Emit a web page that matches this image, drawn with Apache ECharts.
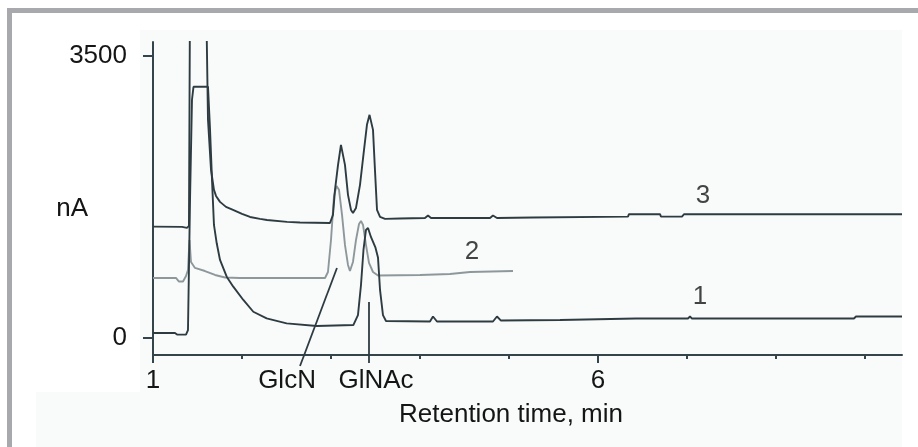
<!DOCTYPE html>
<html>
<head>
<meta charset="utf-8">
<script src="https://cdn.jsdelivr.net/npm/echarts@6/dist/echarts.min.js"></script>
<style>
  html, body { margin: 0; padding: 0; background: #fff; }
  #chart { width: 918px; height: 447px; }
</style>
</head>
<body>
<div id="chart"></div>
<script>
// retention time (min), signal (nA)
const curve1 = [[1.000,62],[1.247,62],[1.270,43],[1.371,43],[1.393,99],[1.416,1713],[1.438,2954],[1.455,3115],[1.618,3115],[1.640,2606],[1.663,1961],[1.685,1402],[1.716,1175],[1.753,968],[1.828,761],[1.902,637],[2.015,472],[2.127,326],[2.277,244],[2.502,182],[2.839,149],[3.251,161],[3.270,174],[3.303,285],[3.337,658],[3.365,1092],[3.393,1340],[3.416,1365],[3.450,1250],[3.500,1120],[3.528,1000],[3.551,596],[3.584,285],[3.618,211],[4.112,205],[4.146,267],[4.191,205],[4.820,205],[4.865,267],[4.910,217],[5.573,223],[6.427,242],[6.449,261],[6.472,242],[7.011,242],[7.034,267],[7.056,242],[8.876,242],[8.899,267],[9.416,267]];
const curve2 = [[1.000,745],[1.258,745],[1.292,701],[1.337,701],[1.371,769],[1.393,844],[1.410,1216],[1.427,943],[1.472,869],[1.584,831],[1.697,782],[1.809,751],[1.978,745],[2.933,745],[2.966,819],[3.000,1216],[3.034,1762],[3.062,1886],[3.090,1837],[3.124,1526],[3.157,1154],[3.191,906],[3.213,831],[3.247,943],[3.281,1216],[3.315,1415],[3.337,1452],[3.360,1402],[3.393,1154],[3.427,931],[3.472,819],[3.528,776],[4.000,782],[4.337,794],[4.562,819],[5.045,831]];
const curve3 = [[1.000,1381],[1.326,1378],[1.348,1359],[1.382,1365],[1.404,1390],[1.416,4300],[1.596,4300],[1.618,2705],[1.652,2085],[1.685,1837],[1.708,1762],[1.753,1688],[1.820,1626],[1.899,1589],[2.000,1539],[2.090,1501],[2.202,1477],[2.281,1464],[2.506,1440],[2.652,1433],[2.989,1427],[3.000,1440],[3.022,1526],[3.045,1837],[3.079,2147],[3.112,2395],[3.129,2383],[3.157,2147],[3.191,1775],[3.225,1588],[3.247,1551],[3.281,1613],[3.326,1899],[3.371,2333],[3.404,2643],[3.433,2767],[3.449,2780],[3.472,2581],[3.494,2085],[3.517,1589],[3.551,1501],[3.607,1477],[3.775,1483],[4.056,1489],[4.090,1520],[4.124,1489],[4.787,1489],[4.820,1520],[4.865,1489],[5.270,1495],[5.281,1505],[6.337,1505],[6.348,1535],[6.697,1535],[6.708,1505],[6.944,1505],[6.966,1535],[9.416,1535]];

// pointer lines from the peak names to the peaks
const glcnPointer = [[2.652,-347],[3.067,869]];
const glnacPointer = [[3.427,-310],[3.427,447]];

// curve numbers
const curveLabels = [[7.18,1762,'3'],[4.584,1067,'2'],[7.146,509,'1']];

// axis ticks and labels
const xLabelValues = [1, 2.506, 3.506, 6];
const xLabelTexts = ['1', 'GlcN', 'GlNAc', '6'];
const xMinorTicks = [2, 3, 4, 5, 7, 8, 9];
const xMajorTicks = [1, 6];
const yTicks = [0, 3500];

const dark = '#2e3c42';
const grey = '#8e989b';
const axisColor = '#34444a';
const font = 'Liberation Sans, Arial, sans-serif';
const textColor = '#151515';

const chart = echarts.init(document.getElementById('chart'));

const lineSeries = (data, color, width) => ({
  type: 'line',
  data: data,
  showSymbol: false,
  silent: true,
  animation: false,
  lineStyle: { color: color, width: width || 1.9 },
});

chart.setOption({
  animation: false,
  backgroundColor: '#fff',
  graphic: [
    { type: 'rect', z: -10, shape: { x: 140, y: 30, width: 762, height: 417 }, style: { fill: '#f9fbfb' } },
    { type: 'rect', z: -10, shape: { x: 36, y: 392, width: 104, height: 55 }, style: { fill: '#f9fbfb' } },
    { type: 'rect', shape: { x: 7, y: 8, width: 911, height: 5 }, style: { fill: '#a8a9ad' } },
    { type: 'rect', shape: { x: 7, y: 8, width: 5, height: 439 }, style: { fill: '#a8a9ad' } },
  ],
  grid: { left: 153, right: 16, top: 42, bottom: 92 },
  xAxis: [
    {
      type: 'value', min: 1, max: 9.416,
      axisLine: { show: true, onZero: false, lineStyle: { color: axisColor, width: 2 } },
      axisTick: { show: true, customValues: xMinorTicks, length: 4, lineStyle: { color: axisColor, width: 2 } },
      axisLabel: {
        customValues: xLabelValues,
        margin: 13,
        color: textColor, fontSize: 26, fontFamily: font,
        formatter: (v) => {
          const i = xLabelValues.findIndex(t => Math.abs(t - v) < 0.01);
          return i >= 0 ? xLabelTexts[i] : '';
        },
      },
      splitLine: { show: false },
      name: 'Retention time, min',
      nameLocation: 'middle',
      nameGap: 47,
      nameMoveOverlap: false,
      nameTextStyle: { color: textColor, fontSize: 26, fontFamily: font, padding: [0, 33, 0, 0] },
    },
    {
      type: 'value', min: 1, max: 9.416, position: 'bottom',
      axisLine: { show: false, onZero: false },
      axisTick: { show: true, customValues: xMajorTicks, length: 8, lineStyle: { color: axisColor, width: 2 } },
      axisLabel: { show: false },
      splitLine: { show: false },
    },
  ],
  yAxis: {
    type: 'value', min: -210, max: 3670,
    axisLine: { show: true, onZero: false, lineStyle: { color: axisColor, width: 2 } },
    axisTick: { show: true, customValues: yTicks, length: 10, lineStyle: { color: axisColor, width: 2 } },
    axisLabel: {
      customValues: yTicks, margin: 26,
      color: textColor, fontSize: 26, fontFamily: font,
      formatter: (v) => String(v),
    },
    splitLine: { show: false },
    name: 'nA',
    nameLocation: 'middle',
    nameRotate: 0,
    nameGap: 65,
    nameMoveOverlap: false,
    nameTextStyle: {
      color: textColor, fontSize: 26, fontFamily: font,
      verticalAlign: 'top', lineHeight: 20,
    },
  },
  series: [
    lineSeries(curve2, grey),
    lineSeries(curve1, dark),
    lineSeries(curve3, dark),
    Object.assign(lineSeries(glcnPointer, dark, 1.8), { clip: false }),
    Object.assign(lineSeries(glnacPointer, dark, 1.8), { clip: false }),
    {
      type: 'scatter',
      data: curveLabels,
      symbolSize: 0,
      itemStyle: { color: 'rgba(0,0,0,0)' },
      silent: true,
      label: {
        show: true,
        position: 'inside',
        formatter: (p) => p.value[2],
        color: textColor, fontSize: 26, fontFamily: font,
      },
    },
  ],
});
</script>
</body>
</html>
